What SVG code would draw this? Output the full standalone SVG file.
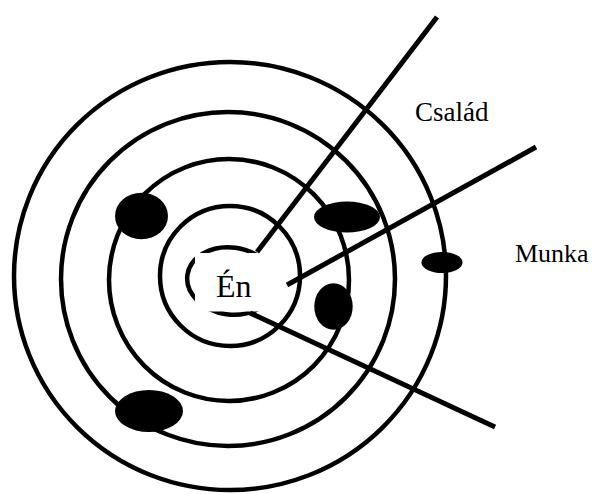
<svg xmlns="http://www.w3.org/2000/svg" width="592" height="494" viewBox="0 0 592 494">
  <style>
    .ring { fill: none; stroke: #000; stroke-width: 4.5; }
    .conn { stroke: #000; stroke-width: 5; stroke-linecap: butt; }
    .blob { fill: #000; }
    .lbl { font-family: "Liberation Serif", "Times New Roman", serif; fill: #000; }
  </style>
  <rect width="592" height="494" fill="#fff"/>
  <g id="rings">
    <ellipse id="ring-outer" class="ring" cx="230" cy="276" rx="216" ry="214"/>
    <ellipse id="ring-2" class="ring" cx="228" cy="279" rx="167" ry="167"/>
    <ellipse id="ring-3" class="ring" cx="229" cy="280" rx="120" ry="121"/>
    <ellipse id="ring-inner" class="ring" cx="230" cy="276" rx="70" ry="70"/>
  </g>
  <g id="en">
    <ellipse class="ring" cx="231" cy="281" rx="44" ry="33.5" transform="rotate(8 231 281)"/>
    <rect x="195" y="253" width="91" height="58.5" fill="#fff"/>
    <text class="lbl" x="216" y="297" font-size="32">Én</text>
  </g>
  <g id="connectors">
    <line class="conn" x1="257" y1="252" x2="437" y2="17"/>
    <line class="conn" x1="287" y1="285" x2="536" y2="147"/>
    <line class="conn" x1="250" y1="313" x2="495" y2="427"/>
  </g>
  <g id="blobs">
    <ellipse class="blob" cx="141.5" cy="216" rx="26.5" ry="23.3"/>
    <ellipse class="blob" cx="347" cy="217" rx="33" ry="15.5"/>
    <ellipse class="blob" cx="333.5" cy="306.5" rx="19.2" ry="23.3"/>
    <ellipse class="blob" cx="149" cy="411" rx="34" ry="21"/>
    <ellipse class="blob" cx="442" cy="262.5" rx="20.5" ry="10.5"/>
  </g>
  <g id="csalad">
    <text class="lbl" x="415" y="121" font-size="27">Család</text>
  </g>
  <g id="munka">
    <text class="lbl" x="515" y="262" font-size="26">Munka</text>
  </g>
</svg>
